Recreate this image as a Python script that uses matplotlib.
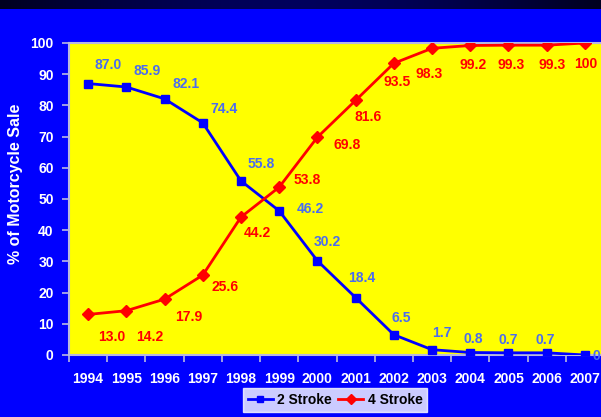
import matplotlib
matplotlib.use("Agg")
import matplotlib.pyplot as plt
import numpy as np
from matplotlib.colors import LinearSegmentedColormap

years = ["1994", "1995", "1996", "1997", "1998", "1999", "2000",
         "2001", "2002", "2003", "2004", "2005", "2006", "2007"]
two_stroke = [87.0, 85.9, 82.1, 74.4, 55.8, 46.2, 30.2, 18.4, 6.5, 1.7, 0.8, 0.7, 0.7, 0]
four_stroke = [13.0, 14.2, 17.9, 25.6, 44.2, 53.8, 69.8, 81.6, 93.5, 98.3, 99.2, 99.3, 99.3, 100]
two_labels = ["87.0", "85.9", "82.1", "74.4", "55.8", "46.2", "30.2", "18.4",
              "6.5", "1.7", "0.8", "0.7", "0.7", "0"]
four_labels = ["13.0", "14.2", "17.9", "25.6", "44.2", "53.8", "69.8", "81.6",
               "93.5", "98.3", "99.2", "99.3", "99.3", "100"]

# label offsets in pixels (dx right, dy down as in image)
blue_off = [(20, -19), (21, -16), (22, -15), (21, -14), (20, -17), (31, -2), (10, -19),
            (6, -20), (7, -17), (10, -17), (3, -14), (0, -13), (-1, -13), (11, 1)]
red_off = [(24, 23), (23, 26), (24, 18), (22, 12), (16, 16), (28, -7), (30, 8),
           (13, 17), (3, 19), (-3, 26), (3, 20), (3, 20), (5, 20), (1, 21)]

W, H = 601, 417
plt.rcParams['font.family'] = ['Liberation Sans', 'DejaVu Sans']
plt.rcParams['font.weight'] = 'bold'

fig = plt.figure(figsize=(W / 100, H / 100), dpi=100)
fig.patch.set_facecolor('#0000FF')

# dark band at top
band = fig.add_axes([0, 1 - 9 / H, 1, 9 / H])
grad = np.linspace(0, 1, 256)
grad = np.vstack([np.sin(np.pi * grad)] * 2)
cmap = LinearSegmentedColormap.from_list('b', ['#000020', '#00005C'])
band.imshow(grad, aspect='auto', cmap=cmap, extent=[0, 1, 0, 1])
band.axis('off')

left, right, top, bottom = 69, 604, 43, 355
ax = fig.add_axes([left / W, (H - bottom) / H, (right - left) / W, (bottom - top) / H])
ax.set_facecolor('#FFFF00')

x = np.arange(len(years))
ax.plot(x, two_stroke, color='#0000FF', lw=2, marker='s', ms=5.5, label='2 Stroke', zorder=3)
ax.plot(x, four_stroke, color='#FF0000', lw=2, marker='D', ms=6.5, label='4 Stroke', zorder=3)

for i, (v, t) in enumerate(zip(two_stroke, two_labels)):
    dx, dy = blue_off[i]
    ax.annotate(t, (x[i], v), xytext=(dx, -dy), textcoords='offset pixels',
                ha='center', va='center', color='#4A6CF0', fontsize=10,
                fontweight='bold', annotation_clip=False, zorder=4)
for i, (v, t) in enumerate(zip(four_stroke, four_labels)):
    dx, dy = red_off[i]
    ax.annotate(t, (x[i], v), xytext=(dx, -dy), textcoords='offset pixels',
                ha='center', va='center', color='#FF0000', fontsize=10,
                fontweight='bold', annotation_clip=False, zorder=4)

ax.set_xlim(-0.5, len(years) - 0.5)
ax.set_ylim(0, 100)
ax.set_yticks(np.arange(0, 101, 10))
ax.set_xticks(x)
ax.set_xticklabels(years)
ax.set_xticks(np.arange(-0.5, len(years), 1), minor=True)
spine_c = '#B8B8E0'
for s in ax.spines.values():
    s.set_color(spine_c)
    s.set_linewidth(1.5)
ax.spines['right'].set_visible(False)
ax.tick_params(axis='x', which='major', length=0, pad=12, labelcolor='white', labelsize=10)
ax.tick_params(axis='x', which='minor', length=5, width=1.2, color=spine_c, direction='out')
ax.tick_params(axis='y', length=5, width=1.2, color=spine_c, labelcolor='white',
               labelsize=10, pad=6)
for lab in ax.get_xticklabels() + ax.get_yticklabels():
    lab.set_fontweight('bold')

fig.text(16 / W, 1 - 184 / H, '% of Motorcycle Sale', rotation=90, color='white',
         fontsize=11.5, fontweight='bold', ha='center', va='center')

leg = fig.legend(loc='center', bbox_to_anchor=(335 / W, 1 - 400 / H), ncol=2,
                 frameon=True, fancybox=False, fontsize=10, handlelength=1.8,
                 handletextpad=0.3, columnspacing=0.5, borderpad=0.35,
                 markerscale=0.8)
leg.get_frame().set_facecolor('white')
leg.get_frame().set_edgecolor('white')
for t in leg.get_texts():
    t.set_fontweight('bold')

fig.savefig('out.png', dpi=100, facecolor=fig.get_facecolor())
